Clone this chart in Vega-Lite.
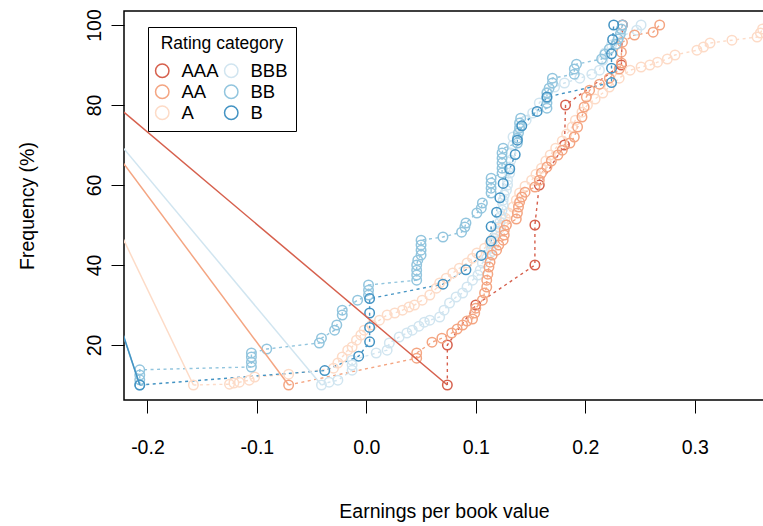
{
  "$schema": "https://vega.github.io/schema/vega-lite/v6.json",
  "width": 640,
  "height": 389,
  "autosize": {"type": "none"},
  "padding": {"left": 124, "top": 11, "right": 0, "bottom": 126},
  "background": "white",
  "config": {
    "font": "Liberation Sans",
    "view": {"stroke": "black", "strokeWidth": 1.5},
    "axis": {
      "grid": false,
      "domain": false,
      "tickColor": "black",
      "tickSize": 13,
      "tickWidth": 1,
      "labelFont": "Liberation Sans",
      "labelFontSize": 19.5,
      "labelColor": "black",
      "titleFont": "Liberation Sans",
      "titleFontSize": 19.5,
      "titleFontWeight": "normal",
      "titleColor": "black"
    }
  },
  "datasets": {
    "pts": [
      {"r":"AAA","x":0.074,"y":10},{"r":"AAA","x":0.074,"y":20},{"r":"AAA","x":0.1,"y":30},{"r":"AAA","x":0.154,"y":40},{"r":"AAA","x":0.154,"y":50},{"r":"AAA","x":0.158,"y":60},{"r":"AAA","x":0.181,"y":70},{"r":"AAA","x":0.182,"y":80},{"r":"AAA","x":0.233,"y":90},{"r":"AAA","x":0.234,"y":100},

      {"r":"A","x":-0.158,"y":10},{"r":"A","x":-0.125,"y":10.2},{"r":"A","x":-0.121,"y":10.5},{"r":"A","x":-0.116,"y":10.7},{"r":"A","x":-0.107,"y":11.2},{"r":"A","x":-0.102,"y":12},{"r":"A","x":-0.071,"y":12.7},{"r":"A","x":-0.03,"y":14.2},{"r":"A","x":-0.026,"y":15.5},{"r":"A","x":-0.022,"y":17},{"r":"A","x":-0.017,"y":18.7},{"r":"A","x":-0.013,"y":19.5},{"r":"A","x":-0.009,"y":21.2},{"r":"A","x":-0.005,"y":22.5},{"r":"A","x":-0.002,"y":23.7},{"r":"A","x":0.005,"y":25},{"r":"A","x":0.012,"y":26.2},{"r":"A","x":0.019,"y":27.5},{"r":"A","x":0.026,"y":28},{"r":"A","x":0.033,"y":28.7},{"r":"A","x":0.039,"y":29.5},{"r":"A","x":0.044,"y":30},{"r":"A","x":0.051,"y":31.2},{"r":"A","x":0.058,"y":32.5},{"r":"A","x":0.064,"y":34.2},{"r":"A","x":0.067,"y":35.5},{"r":"A","x":0.073,"y":36.7},{"r":"A","x":0.079,"y":38},{"r":"A","x":0.085,"y":39.2},{"r":"A","x":0.092,"y":40.5},{"r":"A","x":0.097,"y":41.7},{"r":"A","x":0.101,"y":43},{"r":"A","x":0.108,"y":44.2},{"r":"A","x":0.113,"y":45.5},{"r":"A","x":0.116,"y":46.7},{"r":"A","x":0.119,"y":48},{"r":"A","x":0.122,"y":49.2},{"r":"A","x":0.125,"y":50.5},{"r":"A","x":0.127,"y":51.7},{"r":"A","x":0.13,"y":53},{"r":"A","x":0.134,"y":54.5},{"r":"A","x":0.137,"y":56.2},{"r":"A","x":0.14,"y":58},{"r":"A","x":0.145,"y":59.7},{"r":"A","x":0.151,"y":61.2},{"r":"A","x":0.155,"y":62.7},{"r":"A","x":0.16,"y":64.2},{"r":"A","x":0.164,"y":66},{"r":"A","x":0.168,"y":67.5},{"r":"A","x":0.173,"y":69.2},{"r":"A","x":0.179,"y":71},{"r":"A","x":0.183,"y":72.7},{"r":"A","x":0.188,"y":74.5},{"r":"A","x":0.191,"y":76.2},{"r":"A","x":0.197,"y":78.2},{"r":"A","x":0.202,"y":80},{"r":"A","x":0.209,"y":81.5},{"r":"A","x":0.216,"y":83},{"r":"A","x":0.222,"y":84.5},{"r":"A","x":0.231,"y":86.7},{"r":"A","x":0.241,"y":88.7},{"r":"A","x":0.251,"y":89.5},{"r":"A","x":0.259,"y":90},{"r":"A","x":0.266,"y":90.7},{"r":"A","x":0.275,"y":91.5},{"r":"A","x":0.282,"y":92.5},{"r":"A","x":0.302,"y":93.7},{"r":"A","x":0.308,"y":94.5},{"r":"A","x":0.314,"y":95.5},{"r":"A","x":0.334,"y":96.2},{"r":"A","x":0.357,"y":97},{"r":"A","x":0.36,"y":98},{"r":"A","x":0.362,"y":99},{"r":"A","x":0.369,"y":100},

      {"r":"BBB","x":-0.041,"y":10},{"r":"BBB","x":-0.034,"y":10.7},{"r":"BBB","x":-0.026,"y":11.2},{"r":"BBB","x":-0.013,"y":13.7},{"r":"BBB","x":-0.013,"y":15},{"r":"BBB","x":-0.013,"y":16.2},{"r":"BBB","x":0.009,"y":18},{"r":"BBB","x":0.019,"y":18.7},{"r":"BBB","x":0.021,"y":20.5},{"r":"BBB","x":0.03,"y":22},{"r":"BBB","x":0.037,"y":23},{"r":"BBB","x":0.042,"y":23.7},{"r":"BBB","x":0.048,"y":24.7},{"r":"BBB","x":0.053,"y":25.7},{"r":"BBB","x":0.058,"y":26.2},{"r":"BBB","x":0.067,"y":27},{"r":"BBB","x":0.071,"y":28.7},{"r":"BBB","x":0.076,"y":30.5},{"r":"BBB","x":0.082,"y":32},{"r":"BBB","x":0.088,"y":33},{"r":"BBB","x":0.092,"y":34.5},{"r":"BBB","x":0.097,"y":36.2},{"r":"BBB","x":0.102,"y":37.5},{"r":"BBB","x":0.104,"y":38.7},{"r":"BBB","x":0.106,"y":40.5},{"r":"BBB","x":0.11,"y":41.7},{"r":"BBB","x":0.113,"y":43},{"r":"BBB","x":0.114,"y":44.2},{"r":"BBB","x":0.115,"y":45.5},{"r":"BBB","x":0.117,"y":46.7},{"r":"BBB","x":0.119,"y":48.2},{"r":"BBB","x":0.121,"y":49.5},{"r":"BBB","x":0.122,"y":50.7},{"r":"BBB","x":0.123,"y":52.2},{"r":"BBB","x":0.124,"y":53.7},{"r":"BBB","x":0.125,"y":55},{"r":"BBB","x":0.125,"y":56.2},{"r":"BBB","x":0.126,"y":57.5},{"r":"BBB","x":0.128,"y":58.7},{"r":"BBB","x":0.129,"y":60},{"r":"BBB","x":0.129,"y":61.2},{"r":"BBB","x":0.131,"y":63},{"r":"BBB","x":0.131,"y":64.5},{"r":"BBB","x":0.132,"y":66.2},{"r":"BBB","x":0.132,"y":68},{"r":"BBB","x":0.134,"y":70},{"r":"BBB","x":0.134,"y":72},{"r":"BBB","x":0.14,"y":74.5},{"r":"BBB","x":0.146,"y":76.2},{"r":"BBB","x":0.152,"y":78},{"r":"BBB","x":0.158,"y":80.5},{"r":"BBB","x":0.165,"y":83.2},{"r":"BBB","x":0.172,"y":84.5},{"r":"BBB","x":0.181,"y":85.5},{"r":"BBB","x":0.195,"y":86.7},{"r":"BBB","x":0.206,"y":87.7},{"r":"BBB","x":0.213,"y":88.7},{"r":"BBB","x":0.216,"y":91.2},{"r":"BBB","x":0.218,"y":93},{"r":"BBB","x":0.224,"y":95},{"r":"BBB","x":0.231,"y":97},{"r":"BBB","x":0.247,"y":98.7},{"r":"BBB","x":0.251,"y":100},

      {"r":"AA","x":-0.071,"y":10},{"r":"AA","x":0.046,"y":16.7},{"r":"AA","x":0.046,"y":18},{"r":"AA","x":0.06,"y":20.7},{"r":"AA","x":0.069,"y":21.7},{"r":"AA","x":0.078,"y":23},{"r":"AA","x":0.083,"y":24},{"r":"AA","x":0.088,"y":25},{"r":"AA","x":0.092,"y":26},{"r":"AA","x":0.097,"y":26.5},{"r":"AA","x":0.099,"y":28},{"r":"AA","x":0.1,"y":29.2},{"r":"AA","x":0.106,"y":31.2},{"r":"AA","x":0.108,"y":33},{"r":"AA","x":0.11,"y":34.5},{"r":"AA","x":0.11,"y":36.2},{"r":"AA","x":0.111,"y":37.7},{"r":"AA","x":0.112,"y":39.5},{"r":"AA","x":0.113,"y":40.7},{"r":"AA","x":0.115,"y":42.5},{"r":"AA","x":0.119,"y":43.7},{"r":"AA","x":0.121,"y":45},{"r":"AA","x":0.125,"y":46.2},{"r":"AA","x":0.126,"y":47.5},{"r":"AA","x":0.126,"y":48.7},{"r":"AA","x":0.128,"y":50},{"r":"AA","x":0.137,"y":51.5},{"r":"AA","x":0.138,"y":53},{"r":"AA","x":0.139,"y":54.5},{"r":"AA","x":0.14,"y":55.7},{"r":"AA","x":0.142,"y":57},{"r":"AA","x":0.145,"y":58.2},{"r":"AA","x":0.154,"y":59.5},{"r":"AA","x":0.158,"y":61.2},{"r":"AA","x":0.16,"y":63},{"r":"AA","x":0.165,"y":64.5},{"r":"AA","x":0.169,"y":66},{"r":"AA","x":0.175,"y":67.5},{"r":"AA","x":0.179,"y":68.7},{"r":"AA","x":0.186,"y":70.5},{"r":"AA","x":0.19,"y":72},{"r":"AA","x":0.193,"y":74.5},{"r":"AA","x":0.197,"y":77},{"r":"AA","x":0.199,"y":79.5},{"r":"AA","x":0.201,"y":82},{"r":"AA","x":0.204,"y":83.7},{"r":"AA","x":0.213,"y":85.2},{"r":"AA","x":0.222,"y":86.7},{"r":"AA","x":0.231,"y":89},{"r":"AA","x":0.233,"y":90.5},{"r":"AA","x":0.233,"y":93.2},{"r":"AA","x":0.234,"y":95.7},{"r":"AA","x":0.245,"y":97.5},{"r":"AA","x":0.262,"y":98.2},{"r":"AA","x":0.268,"y":100},

      {"r":"BB","x":-0.207,"y":10},{"r":"BB","x":-0.207,"y":11.3},{"r":"BB","x":-0.207,"y":12.5},{"r":"BB","x":-0.207,"y":13.8},{"r":"BB","x":-0.105,"y":14.5},{"r":"BB","x":-0.105,"y":15.7},{"r":"BB","x":-0.105,"y":17},{"r":"BB","x":-0.105,"y":18},{"r":"BB","x":-0.091,"y":19},{"r":"BB","x":-0.043,"y":20.5},{"r":"BB","x":-0.041,"y":21.7},{"r":"BB","x":-0.029,"y":23.7},{"r":"BB","x":-0.027,"y":25},{"r":"BB","x":-0.022,"y":27.5},{"r":"BB","x":-0.022,"y":28.7},{"r":"BB","x":-0.008,"y":31.2},{"r":"BB","x":0.002,"y":32.5},{"r":"BB","x":0.002,"y":33.7},{"r":"BB","x":0.002,"y":35},{"r":"BB","x":0.046,"y":36.2},{"r":"BB","x":0.046,"y":37.5},{"r":"BB","x":0.046,"y":38.7},{"r":"BB","x":0.046,"y":40},{"r":"BB","x":0.047,"y":41.2},{"r":"BB","x":0.05,"y":42.5},{"r":"BB","x":0.05,"y":43.7},{"r":"BB","x":0.05,"y":45},{"r":"BB","x":0.05,"y":46.2},{"r":"BB","x":0.07,"y":47},{"r":"BB","x":0.087,"y":48.2},{"r":"BB","x":0.09,"y":49.5},{"r":"BB","x":0.091,"y":50.5},{"r":"BB","x":0.101,"y":53},{"r":"BB","x":0.105,"y":54.2},{"r":"BB","x":0.106,"y":55.5},{"r":"BB","x":0.114,"y":58},{"r":"BB","x":0.114,"y":59.2},{"r":"BB","x":0.114,"y":60.5},{"r":"BB","x":0.114,"y":61.7},{"r":"BB","x":0.124,"y":63},{"r":"BB","x":0.124,"y":64.2},{"r":"BB","x":0.124,"y":65.5},{"r":"BB","x":0.124,"y":66.7},{"r":"BB","x":0.124,"y":68},{"r":"BB","x":0.125,"y":69.2},{"r":"BB","x":0.138,"y":70.5},{"r":"BB","x":0.138,"y":71.7},{"r":"BB","x":0.139,"y":73},{"r":"BB","x":0.14,"y":74.2},{"r":"BB","x":0.14,"y":75.5},{"r":"BB","x":0.141,"y":76.7},{"r":"BB","x":0.165,"y":79.2},{"r":"BB","x":0.165,"y":80.5},{"r":"BB","x":0.165,"y":81.7},{"r":"BB","x":0.165,"y":83},{"r":"BB","x":0.167,"y":84.2},{"r":"BB","x":0.17,"y":85.5},{"r":"BB","x":0.17,"y":86.7},{"r":"BB","x":0.19,"y":87.7},{"r":"BB","x":0.19,"y":89},{"r":"BB","x":0.192,"y":90.2},{"r":"BB","x":0.215,"y":91.5},{"r":"BB","x":0.218,"y":92.7},{"r":"BB","x":0.222,"y":94},{"r":"BB","x":0.228,"y":95.2},{"r":"BB","x":0.23,"y":96.5},{"r":"BB","x":0.232,"y":97.7},{"r":"BB","x":0.233,"y":99},{"r":"BB","x":0.234,"y":100},

      {"r":"B","x":-0.207,"y":10},{"r":"B","x":-0.038,"y":13.6},{"r":"B","x":-0.007,"y":17.2},{"r":"B","x":0.003,"y":20.8},{"r":"B","x":0.003,"y":24.4},{"r":"B","x":0.003,"y":28},{"r":"B","x":0.003,"y":31.6},{"r":"B","x":0.07,"y":35.2},{"r":"B","x":0.091,"y":38.8},{"r":"B","x":0.105,"y":42.4},{"r":"B","x":0.114,"y":46},{"r":"B","x":0.114,"y":49.6},{"r":"B","x":0.119,"y":53.2},{"r":"B","x":0.122,"y":56.8},{"r":"B","x":0.125,"y":60.4},{"r":"B","x":0.131,"y":64},{"r":"B","x":0.136,"y":67.6},{"r":"B","x":0.138,"y":71.2},{"r":"B","x":0.142,"y":74.8},{"r":"B","x":0.156,"y":78.4},{"r":"B","x":0.165,"y":82},{"r":"B","x":0.224,"y":85.6},{"r":"B","x":0.224,"y":89.2},{"r":"B","x":0.224,"y":92.8},{"r":"B","x":0.225,"y":96.4},{"r":"B","x":0.226,"y":100}
    ],
    "lead": [
      {"r":"A","x":-0.316,"y":100},{"r":"A","x":-0.158,"y":10},
      {"r":"BBB","x":-0.316,"y":100},{"r":"BBB","x":-0.041,"y":10},
      {"r":"AA","x":-0.316,"y":100},{"r":"AA","x":-0.071,"y":10},
      {"r":"BB","x":-0.316,"y":100},{"r":"BB","x":-0.207,"y":10},
      {"r":"B","x":-0.316,"y":100},{"r":"B","x":-0.207,"y":10},
      {"r":"AAA","x":-0.316,"y":100},{"r":"AAA","x":0.074,"y":10}
    ]
  },
  "encoding": {
    "x": {
      "field": "x",
      "type": "quantitative",
      "scale": {"domain": [-0.2214, 0.3633], "nice": false, "zero": false},
      "axis": {
        "values": [-0.2, -0.1, 0, 0.1, 0.2, 0.3],
        "labelExpr": "(datum.value < 0 ? '-' : '') + format(abs(datum.value), '.1f')",
        "labelPadding": 25,
        "labelFlush": false,
        "title": "Earnings per book value",
        "titlePadding": 46
      }
    },
    "y": {
      "field": "y",
      "type": "quantitative",
      "scale": {"domain": [6.25, 103.5], "nice": false, "zero": false},
      "axis": {
        "values": [20, 40, 60, 80, 100],
        "labelAngle": -90,
        "labelAlign": "center",
        "labelBaseline": "alphabetic",
        "labelPadding": 11,
        "labelFlush": false,
        "title": "Frequency (%)",
        "titlePadding": 47
      }
    },
    "color": {
      "field": "r",
      "type": "nominal",
      "scale": {
        "domain": ["AAA", "AA", "A", "BBB", "BB", "B"],
        "range": ["#D6604D", "#F4A582", "#FDDBC7", "#D1E5F0", "#92C5DE", "#4393C3"]
      },
      "legend": {
        "title": "Rating category",
        "orient": "none",
        "legendX": 24,
        "legendY": 16,
        "columns": 2,
        "strokeColor": "black",
        "fillColor": "white",
        "padding": 8,
        "titleFont": "Liberation Sans",
        "titleFontSize": 17.5,
        "titleFontWeight": "normal",
        "titleColor": "black",
        "titleAnchor": "middle",
        "titlePadding": 9,
        "labelFont": "Liberation Sans",
        "labelFontSize": 18.5,
        "labelColor": "black",
        "labelOffset": 10,
        "symbolType": "circle",
        "symbolSize": 180,
        "symbolStrokeWidth": 1.5,
        "symbolFillColor": "transparent",
        "symbolOffset": -3,
        "columnPadding": 2,
        "rowPadding": 1
      }
    }
  },
  "layer": [
    {
      "data": {"name": "pts"},
      "mark": {"type": "line", "clip": true, "strokeDash": [3, 3.5], "strokeWidth": 1.4},
      "encoding": {"order": {"field": "y", "type": "quantitative"}}
    },
    {
      "data": {"name": "pts"},
      "mark": {"type": "point", "shape": "circle", "filled": false, "size": 90, "strokeWidth": 1.5, "opacity": 1, "clip": true}
    },
    {
      "data": {"name": "lead"},
      "mark": {"type": "line", "clip": true, "strokeWidth": 1.5},
      "encoding": {"order": {"field": "y", "type": "quantitative", "sort": "descending"}}
    }
  ]
}
